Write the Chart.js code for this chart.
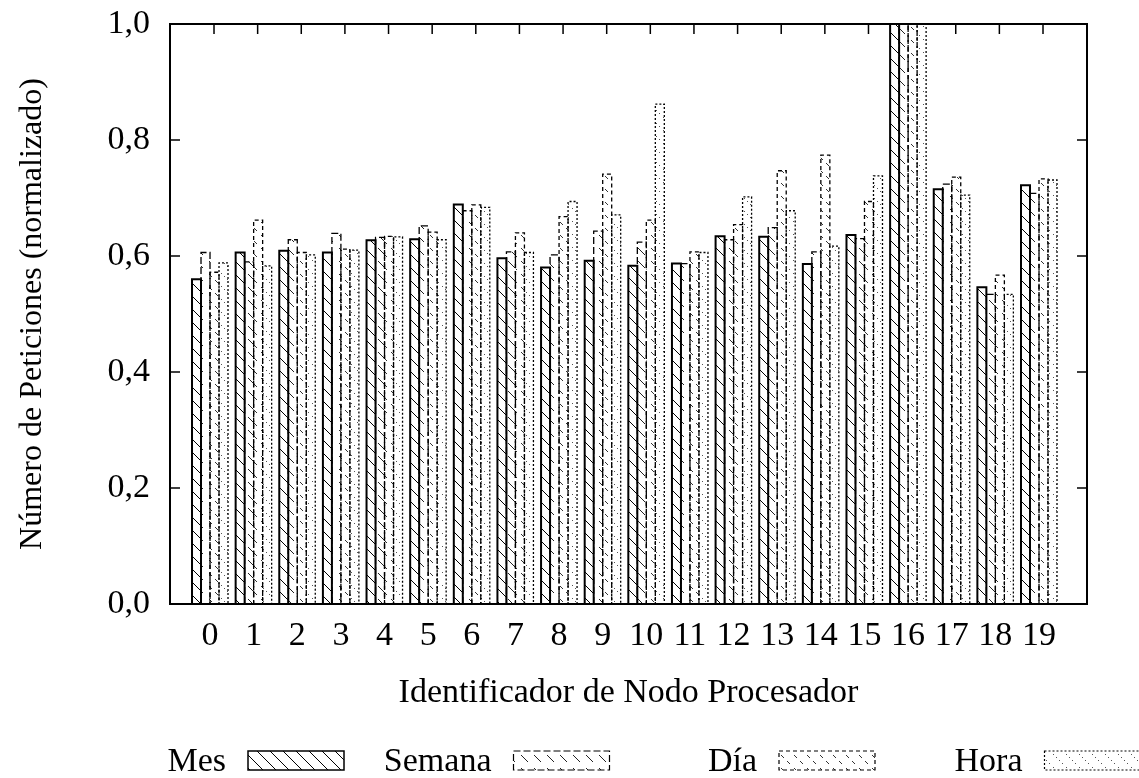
<!DOCTYPE html>
<html>
<head>
<meta charset="utf-8">
<script src="https://cdn.jsdelivr.net/npm/chart.js@4.4.1/dist/chart.umd.min.js"></script>
<style>
  html, body { margin: 0; padding: 0; background: #fff; }
  #wrap { width: 1139px; height: 778px; }
</style>
</head>
<body>
<div id="wrap"><canvas id="chart"></canvas></div>
<script>
const nodes = ["0", "1", "2", "3", "4", "5", "6", "7", "8", "9",
    "10", "11", "12", "13", "14", "15", "16", "17", "18", "19"];
const seriesNames = ["Mes", "Semana", "Día", "Hora"];

const mes = [0.560, 0.606, 0.609, 0.606, 0.627, 0.629, 0.689, 0.596, 0.580, 0.592,
    0.583, 0.587, 0.634, 0.633, 0.586, 0.636, 1.0, 0.715, 0.546, 0.722];
const semana = [0.606, 0.590, 0.628, 0.639, 0.632, 0.652, 0.678, 0.607, 0.602, 0.643,
    0.624, 0.587, 0.628, 0.649, 0.607, 0.630, 1.0, 0.724, 0.534, 0.708];
const dia = [0.572, 0.662, 0.606, 0.612, 0.634, 0.641, 0.688, 0.640, 0.668, 0.741,
    0.662, 0.607, 0.654, 0.747, 0.774, 0.694, 1.0, 0.736, 0.567, 0.733];
const hora = [0.588, 0.583, 0.602, 0.610, 0.633, 0.628, 0.684, 0.606, 0.694, 0.671,
    0.862, 0.606, 0.702, 0.678, 0.617, 0.738, 1.0, 0.705, 0.534, 0.731];

const yTickValues = [0, 0.2, 0.4, 0.6, 0.8, 1.0];

const FONT = "'Liberation Serif', 'DejaVu Serif', serif";
const FONT_SIZE = 34;

// hatch tiles, roughly like the gnuplot patterns
function makePattern(kind) {
    const s = 13;
    const c = document.createElement("canvas");
    c.width = s;
    c.height = s;
    const g = c.getContext("2d");
    g.fillStyle = "#fff";
    g.fillRect(0, 0, s, s);
    g.lineWidth = 1;
    if (kind === "solid") {
        g.strokeStyle = "#000";
        [-s, 0, s].forEach(o => {
            g.beginPath();
            g.moveTo(o, 0);
            g.lineTo(o + s, s);
            g.stroke();
        });
    } else if (kind === "dash") {
        g.strokeStyle = "#222";
        g.beginPath();
        g.moveTo(1, 1);
        g.lineTo(8, 8);
        g.stroke();
    } else if (kind === "short") {
        g.strokeStyle = "#333";
        g.beginPath();
        g.moveTo(1, 1);
        g.lineTo(4, 4);
        g.moveTo(7, 7);
        g.lineTo(10, 10);
        g.stroke();
    } else {
        g.fillStyle = "#555";
        [0, 3, 6, 9].forEach(p => g.fillRect(p, p, 1, 1));
    }
    return g.createPattern(c, "repeat");
}

const STYLES = [
    { pattern: makePattern("solid"), dash: [], width: 2 },
    { pattern: makePattern("dash"), dash: [7, 3], width: 1.3 },
    { pattern: makePattern("short"), dash: [4, 3], width: 1.3 },
    { pattern: makePattern("dots"), dash: [2, 2], width: 1.3 }
];

function toPoints(values) {
    return values.map((v, i) => ({ x: i, y: v }));
}

const seriesValues = [mes, semana, dia, hora];
const datasets = seriesValues.map((vals, k) => ({
    label: seriesNames[k],
    data: toPoints(vals),
    backgroundColor: STYLES[k].pattern,
    borderWidth: 0,
    categoryPercentage: 0.825,
    barPercentage: 1.0
}));

function strokeOutline(ctx, left, top, right, bottom, style) {
    ctx.save();
    ctx.strokeStyle = "#000";
    ctx.lineWidth = style.width;
    ctx.setLineDash(style.dash);
    ctx.beginPath();
    ctx.moveTo(left, bottom);
    ctx.lineTo(left, top);
    ctx.lineTo(right, top);
    ctx.lineTo(right, bottom);
    ctx.stroke();
    ctx.restore();
}

const frame = {
    id: "frame",
    beforeDatasetsDraw(chart) {
        const { ctx, chartArea: a, scales } = chart;
        ctx.save();
        ctx.strokeStyle = "#000";
        ctx.lineWidth = 1.5;
        yTickValues.forEach(v => {
            const y = scales.y.getPixelForValue(v);
            ctx.beginPath();
            ctx.moveTo(a.left, y);
            ctx.lineTo(a.left + 10, y);
            ctx.moveTo(a.right, y);
            ctx.lineTo(a.right - 10, y);
            ctx.stroke();
        });
        nodes.forEach((n, i) => {
            const x = scales.x.getPixelForValue(i) + 4;
            ctx.beginPath();
            ctx.moveTo(x, a.top);
            ctx.lineTo(x, a.top + 10);
            ctx.moveTo(x, a.bottom);
            ctx.lineTo(x, a.bottom - 10);
            ctx.stroke();
        });
        ctx.restore();
    },
    afterDatasetsDraw(chart) {
        const { ctx, chartArea: a } = chart;
        ctx.save();
        ctx.beginPath();
        ctx.rect(a.left, a.top - 1, a.right - a.left, a.bottom - a.top + 1);
        ctx.clip();
        chart.data.datasets.forEach((ds, k) => {
            const meta = chart.getDatasetMeta(k);
            meta.data.forEach(bar => {
                const p = bar.getProps(["x", "y", "base", "width"], true);
                strokeOutline(ctx, p.x - p.width / 2, p.y, p.x + p.width / 2, p.base, STYLES[k]);
            });
        });
        ctx.restore();

        ctx.save();
        ctx.strokeStyle = "#000";
        ctx.lineWidth = 2;
        ctx.strokeRect(a.left, a.top, a.right - a.left, a.bottom - a.top);
        ctx.restore();
    },
    afterDraw(chart) {
        // key below the plot: text, then swatch
        const ctx = chart.ctx;
        ctx.save();
        ctx.font = FONT_SIZE + "px " + FONT;
        ctx.textAlign = "right";
        ctx.textBaseline = "alphabetic";
        seriesNames.forEach((name, k) => {
            const sx = 248 + k * 265.5;
            ctx.fillStyle = "#000";
            ctx.fillText(name, sx - 22, 771);
            ctx.fillStyle = STYLES[k].pattern;
            ctx.fillRect(sx, 751, 96, 19);
            ctx.strokeStyle = "#000";
            ctx.lineWidth = k === 0 ? 1.5 : 1.2;
            ctx.setLineDash(STYLES[k].dash);
            ctx.strokeRect(sx, 751, 96, 19);
            ctx.setLineDash([]);
        });
        ctx.restore();
    }
};

new Chart(document.getElementById("chart"), {
    type: "bar",
    data: { datasets },
    options: {
        responsive: true,
        maintainAspectRatio: false,
        animation: false,
        layout: { padding: { top: 24, right: 52, left: 0, bottom: 0 } },
        plugins: {
            legend: { display: false },
            tooltip: { enabled: false }
        },
        scales: {
            x: {
                type: "linear",
                bounds: "data",
                offset: false,
                min: -0.917,
                max: 20.1,
                grid: { display: false, drawTicks: false, offset: false },
                border: { display: false },
                afterBuildTicks: scale => {
                    scale.ticks = nodes.map((n, i) => ({ value: i }));
                },
                ticks: {
                    autoSkip: false,
                    maxRotation: 0,
                    padding: 12,
                    color: "#000",
                    font: { family: FONT, size: FONT_SIZE },
                    callback: v => nodes[v] !== undefined ? nodes[v] : ""
                },
                title: {
                    display: true,
                    text: "Identificador de Nodo Procesador",
                    color: "#000",
                    font: { family: FONT, size: FONT_SIZE },
                    padding: { top: 0, bottom: 65 }
                },
                afterFit: scale => {
                    scale.height = 174;
                    scale.paddingLeft = 0;
                    scale.paddingRight = 0;
                }
            },
            y: {
                min: 0,
                max: 1,
                grid: { display: false, drawTicks: false },
                border: { display: false },
                afterBuildTicks: scale => {
                    scale.ticks = yTickValues.map(v => ({ value: v }));
                },
                ticks: {
                    padding: 20,
                    color: "#000",
                    font: { family: FONT, size: FONT_SIZE },
                    callback: v => v.toFixed(1).replace(".", ",")
                },
                title: {
                    display: true,
                    text: "Número de Peticiones (normalizado)",
                    color: "#000",
                    font: { family: FONT, size: 32 },
                    padding: { top: 13, bottom: 0 }
                },
                afterFit: scale => {
                    scale.width = 170;
                    scale.paddingTop = 0;
                    scale.paddingBottom = 0;
                }
            }
        }
    },
    plugins: [frame]
});
</script>
</body>
</html>
